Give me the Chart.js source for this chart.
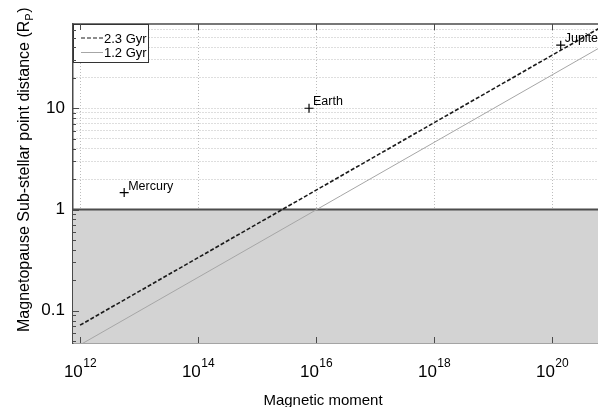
<!DOCTYPE html>
<html>
<head>
<meta charset="utf-8">
<script src="https://cdn.jsdelivr.net/npm/chart.js@4.4.0/dist/chart.umd.min.js"></script>
<style>
  html, body { margin: 0; padding: 0; background: #fff; }
  #wrap { width: 598px; height: 407px; position: relative; }
</style>
</head>
<body>
<div id="wrap"><canvas id="chart"></canvas></div>
<script>
// axis limits and ticks
const xLimits = [7.6e11, 6.0e20];
const yLimits = [0.048, 68];
const xTickExps = [12, 14, 16, 18, 20];
const yTickLabels = [0.1, 1, 10];

// the two scaling lines (end points)
const seriesNames = ['2.3 Gyr', '1.2 Gyr'];
const moment = [1e12, 1e21];
const dist23 = [0.072, 72];
const dist12 = [0.046, 46];

// planets
const planetNames = ['Mercury', 'Earth', 'Jupiter'];
const planetMoment = [5.6e12, 7.6e15, 1.4e20];
const planetDist = [1.47, 10, 42];

// shaded zone below 1 R_P
const shieldLevel = 1;

const FONT = '"Liberation Sans", Arial, Helvetica, sans-serif';
const AXIS_COLOR = '#4a4a4a';

// draws what Chart.js can't: superscript ticks, titles, labels, legend, inner ticks
const decorPlugin = {
    id: 'decor',
    afterDraw(chart) {
        const ctx = chart.ctx;
        const area = chart.chartArea;
        const xs = chart.scales.x;
        const ys = chart.scales.y;
        ctx.save();

        // top border
        ctx.strokeStyle = AXIS_COLOR;
        ctx.lineWidth = 1.5;
        ctx.beginPath();
        ctx.moveTo(area.left, area.top);
        ctx.lineTo(area.right, area.top);
        ctx.stroke();

        // point labels
        ctx.fillStyle = '#000';
        ctx.font = '12.5px ' + FONT;
        ctx.textAlign = 'left';
        ctx.textBaseline = 'alphabetic';
        planetNames.forEach(function (name, i) {
            const px = xs.getPixelForValue(planetMoment[i]);
            const py = ys.getPixelForValue(planetDist[i]);
            ctx.fillText(name, px + 4, py - 3);
        });

        // legend box
        const lx = area.left, ly = area.top, lw = 75, lh = 38;
        ctx.fillStyle = '#fff';
        ctx.fillRect(lx, ly, lw, lh);
        ctx.strokeStyle = '#333';
        ctx.lineWidth = 1;
        ctx.strokeRect(lx + 0.5, ly + 0.5, lw, lh);
        ctx.font = '13px ' + FONT;
        const legendSets = [chart.data.datasets[1], chart.data.datasets[2]];
        legendSets.forEach(function (ds, i) {
            const yy = ly + 14 + i * 14.5;
            ctx.strokeStyle = ds.borderColor;
            ctx.lineWidth = 1;
            ctx.setLineDash(ds.borderDash || []);
            ctx.beginPath();
            ctx.moveTo(lx + 8, yy);
            ctx.lineTo(lx + 30, yy);
            ctx.stroke();
            ctx.setLineDash([]);
            ctx.fillStyle = '#000';
            ctx.fillText(ds.label, lx + 31, yy + 4.5);
        });

        // inner ticks
        ctx.strokeStyle = AXIS_COLOR;
        ctx.lineWidth = 1;
        ys.ticks.forEach(function (t) {
            const py = Math.round(ys.getPixelForValue(t.value)) + 0.5;
            const len = yTickLabels.includes(t.value) ? 6 : 3;
            ctx.beginPath();
            ctx.moveTo(area.left, py);
            ctx.lineTo(area.left + len, py);
            ctx.stroke();
        });
        xTickExps.forEach(function (e) {
            const px = Math.round(xs.getPixelForValue(Math.pow(10, e))) + 0.5;
            ctx.beginPath();
            ctx.moveTo(px, area.bottom);
            ctx.lineTo(px, area.bottom - 6);
            ctx.moveTo(px, area.top);
            ctx.lineTo(px, area.top + 6);
            ctx.stroke();
        });

        // x tick labels with superscript
        ctx.fillStyle = '#000';
        xTickExps.forEach(function (e) {
            const px = xs.getPixelForValue(Math.pow(10, e));
            ctx.font = '17px ' + FONT;
            const wBase = ctx.measureText('10').width;
            ctx.font = '12px ' + FONT;
            const wExp = ctx.measureText(String(e)).width;
            const x0 = px - (wBase + wExp) / 2;
            ctx.font = '17px ' + FONT;
            ctx.fillText('10', x0, area.bottom + 34);
            ctx.font = '12px ' + FONT;
            ctx.fillText(String(e), x0 + wBase + 0.5, area.bottom + 24);
        });

        // x title
        ctx.font = '15px ' + FONT;
        ctx.textAlign = 'center';
        ctx.fillText('Magnetic moment', area.left + 250, 405);

        // y title with subscript
        ctx.save();
        ctx.translate(29, 170);
        ctx.rotate(-Math.PI / 2);
        ctx.textAlign = 'left';
        const mainTxt = 'Magnetopause Sub-stellar point distance (R';
        ctx.font = '16px ' + FONT;
        const wMain = ctx.measureText(mainTxt).width;
        const wClose = ctx.measureText(')').width;
        ctx.font = '11px ' + FONT;
        const wSub = ctx.measureText('P').width;
        const start = -(wMain + wSub + wClose) / 2;
        ctx.font = '16px ' + FONT;
        ctx.fillText(mainTxt, start, 0);
        ctx.fillText(')', start + wMain + wSub + 0.5, 0);
        ctx.font = '11px ' + FONT;
        ctx.fillText('P', start + wMain, 4);
        ctx.restore();

        ctx.restore();
    }
};

const ctx = document.getElementById('chart').getContext('2d');

new Chart(ctx, {
    type: 'line',
    data: {
        datasets: [
            {
                label: 'planets',
                type: 'scatter',
                data: planetMoment.map((m, i) => ({ x: m, y: planetDist[i] })),
                pointStyle: 'cross',
                pointRadius: 4.5,
                borderColor: '#000',
                borderWidth: 1.2,
                order: 0
            },
            {
                label: seriesNames[0],
                data: moment.map((m, i) => ({ x: m, y: dist23[i] })),
                borderColor: '#1a1a1a',
                borderWidth: 1.6,
                borderDash: [4, 2],
                pointRadius: 0,
                fill: false,
                order: 1
            },
            {
                label: seriesNames[1],
                data: moment.map((m, i) => ({ x: m, y: dist12[i] })),
                borderColor: '#a6a6a6',
                borderWidth: 1,
                pointRadius: 0,
                fill: false,
                order: 2
            },
            {
                label: 'shield',
                data: xLimits.map(m => ({ x: m, y: shieldLevel })),
                borderColor: '#4d4d4d',
                borderWidth: 2,
                backgroundColor: '#d3d3d3',
                pointRadius: 0,
                fill: 'start',
                order: 3
            }
        ]
    },
    options: {
        responsive: true,
        maintainAspectRatio: false,
        animation: false,
        layout: { autoPadding: false, padding: { top: 24, right: 0, left: 0, bottom: 0 } },
        plugins: {
            legend: { display: false },
            tooltip: { enabled: false }
        },
        scales: {
            x: {
                type: 'logarithmic',
                position: 'bottom',
                min: xLimits[0],
                max: xLimits[1],
                afterBuildTicks: function (scale) {
                    scale.ticks = xTickExps.map(e => ({ value: Math.pow(10, e) }));
                },
                afterFit: function (scale) { scale.height = 64; },
                ticks: { display: false },
                grid: { color: '#bdbdbd', lineWidth: 1, drawTicks: false, tickLength: 0 },
                border: { display: true, color: AXIS_COLOR, width: 1.5, dash: [1, 2] }
            },
            y: {
                type: 'logarithmic',
                position: 'left',
                min: yLimits[0],
                max: yLimits[1],
                afterBuildTicks: function (scale) {
                    const t = [];
                    for (let k = -2; k <= 1; k++) {
                        for (let m = 1; m <= 9; m++) {
                            const v = Number((m * Math.pow(10, k)).toPrecision(3));
                            if (v >= yLimits[0] && v <= yLimits[1]) t.push({ value: v });
                        }
                    }
                    scale.ticks = t;
                },
                afterFit: function (scale) { scale.width = 73; },
                ticks: {
                    autoSkip: false,
                    padding: 8,
                    color: '#000',
                    font: { family: FONT, size: 17 },
                    callback: function (value) {
                        return yTickLabels.includes(value) ? String(value) : '';
                    }
                },
                grid: { color: '#bdbdbd', lineWidth: 1, drawTicks: false, tickLength: 0 },
                border: { display: true, color: AXIS_COLOR, width: 1.5, dash: [1, 2] }
            }
        }
    },
    plugins: [decorPlugin]
});
</script>
</body>
</html>
